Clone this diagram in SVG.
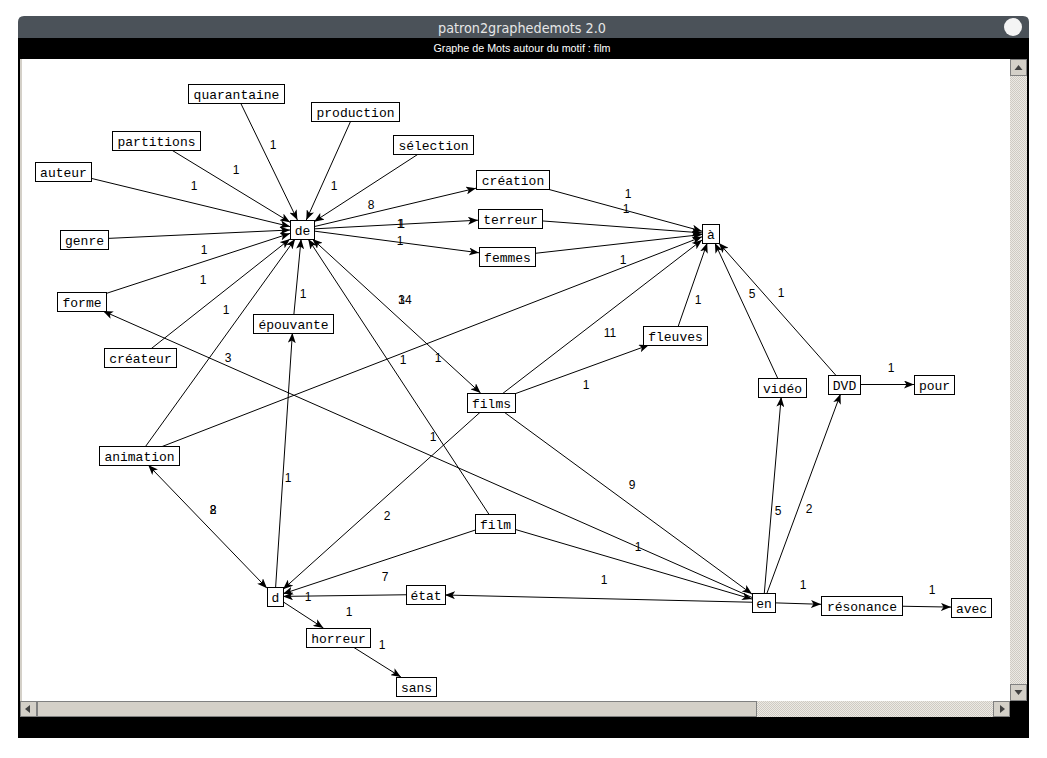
<svg xmlns="http://www.w3.org/2000/svg" width="1047" height="758" viewBox="0 0 1047 758">
<style>
.nb{fill:#fff;stroke:#000;stroke-width:1}
.nt{font-family:"Liberation Mono",monospace;font-size:13px;fill:#000;text-anchor:middle}
.lb{font-family:"Liberation Sans",Arial,sans-serif;font-size:12px;fill:#000;text-anchor:middle}
.e{stroke:#000;stroke-width:1;fill:none;marker-end:url(#ah)}
.b{marker-start:url(#ah)}
.btn{fill:#d4d0c8;stroke:#808080;stroke-width:1}
.tri{fill:#404040}
</style>
<defs>
<marker id="ah" viewBox="0 0 10 8" refX="10" refY="4" markerWidth="10" markerHeight="8" markerUnits="userSpaceOnUse" orient="auto-start-reverse">
<path d="M0,0 L10,4 L0,8 L2.5,4 z" fill="#000"/>
</marker>
<pattern id="hatch" width="2" height="2" patternUnits="userSpaceOnUse">
<rect width="2" height="2" fill="#ece9e4"/>
<rect width="1" height="1" fill="#cfcbc3"/>
<rect x="1" y="1" width="1" height="1" fill="#cfcbc3"/>
</pattern>
</defs>
<rect width="1047" height="758" fill="#fff"/>
<!-- window frame -->
<rect x="18" y="36" width="1011" height="702" fill="#000"/>
<path d="M18,38 L18,22 Q18,16 24,16 L1023,16 Q1029,16 1029,22 L1029,38 Z" fill="#4b5259"/>
<text x="522" y="33" font-family="DejaVu Sans Condensed,DejaVu Sans,sans-serif" font-size="14" fill="#e6e6e6" text-anchor="middle" textLength="168" lengthAdjust="spacingAndGlyphs">patron2graphedemots 2.0</text>
<circle cx="1013" cy="27" r="9" fill="#f4f4f4"/>
<text x="522" y="52" font-family="Liberation Sans,Arial,sans-serif" font-size="10" fill="#fff" text-anchor="middle" textLength="177" lengthAdjust="spacingAndGlyphs">Graphe de Mots autour du motif : film</text>
<!-- canvas -->
<rect x="20" y="59" width="990" height="642" fill="#fff"/>
<rect x="20" y="59" width="2" height="642" fill="#d4d0c8"/>
<!-- vertical scrollbar -->
<rect x="1010" y="59" width="17" height="642" fill="url(#hatch)"/>
<rect x="1010.5" y="59.5" width="16" height="16" class="btn"/>
<path d="M1014.5,70 L1022.5,70 L1018.5,65 Z" class="tri"/>
<rect x="1010.5" y="684.5" width="16" height="16" class="btn"/>
<path d="M1014.5,690 L1022.5,690 L1018.5,695 Z" class="tri"/>
<!-- horizontal scrollbar -->
<rect x="20" y="701" width="990" height="16" fill="url(#hatch)"/>
<rect x="20.5" y="701.5" width="16" height="15" class="btn"/>
<path d="M25,709 L30,705 L30,713 Z" class="tri"/>
<rect x="37.5" y="701.5" width="719" height="15" class="btn"/>
<rect x="993.5" y="701.5" width="16" height="15" class="btn"/>
<path d="M1005,709 L1000,705 L1000,713 Z" class="tri"/>
<g id="connectors">
<line class="e" x1="236" y1="93.5" x2="297.4" y2="220"/>
<line class="e" x1="355" y1="111.5" x2="306.3" y2="220"/>
<line class="e" x1="156" y1="140.5" x2="290" y2="222.2"/>
<line class="e" x1="433" y1="144.5" x2="314" y2="221.7"/>
<line class="e" x1="63" y1="171.5" x2="290" y2="226.6"/>
<line class="e" x1="84" y1="239.5" x2="290" y2="230"/>
<line class="e" x1="81.5" y1="301.5" x2="290" y2="233.4"/>
<line class="e" x1="140" y1="357.5" x2="290" y2="239"/>
<line class="e" x1="139" y1="455.5" x2="295.1" y2="239"/>
<line class="e" x1="293" y1="323.5" x2="301.1" y2="239"/>
<line class="e" x1="495" y1="523.5" x2="308.2" y2="239"/>
<line class="e b" x1="312.4" y1="239" x2="480.6" y2="393"/>
<line class="e" x1="302" y1="229.5" x2="476" y2="188.2"/>
<line class="e" x1="302" y1="229.5" x2="478" y2="220.2"/>
<line class="e" x1="302" y1="229.5" x2="479" y2="252.8"/>
<line class="e" x1="512.5" y1="179.5" x2="702" y2="231.2"/>
<line class="e" x1="510" y1="218.5" x2="702" y2="232.9"/>
<line class="e" x1="507" y1="256.5" x2="702" y2="234.5"/>
<line class="e" x1="139" y1="455.5" x2="702" y2="236.8"/>
<line class="e" x1="491" y1="402.5" x2="702" y2="240"/>
<line class="e" x1="675" y1="335.5" x2="707.2" y2="243"/>
<line class="e" x1="782" y1="387.5" x2="714.9" y2="243"/>
<line class="e" x1="844" y1="384.5" x2="718.9" y2="243"/>
<line class="e" x1="491" y1="402.5" x2="648.9" y2="345"/>
<line class="e" x1="491" y1="402.5" x2="752" y2="594.1"/>
<line class="e" x1="495" y1="523.5" x2="752" y2="599.1"/>
<line class="e" x1="763.5" y1="602.5" x2="103" y2="311"/>
<line class="e" x1="763.5" y1="602.5" x2="445" y2="595"/>
<line class="e" x1="763.5" y1="602.5" x2="781.2" y2="397"/>
<line class="e" x1="763.5" y1="602.5" x2="840.5" y2="394"/>
<line class="e" x1="763.5" y1="602.5" x2="821" y2="604.3"/>
<line class="e" x1="861.5" y1="605.5" x2="951" y2="607.1"/>
<line class="e" x1="844" y1="384.5" x2="914" y2="384.5"/>
<line class="e" x1="491" y1="402.5" x2="283" y2="589.3"/>
<line class="e" x1="495" y1="523.5" x2="283" y2="593.8"/>
<line class="e" x1="425.5" y1="594.5" x2="283" y2="596.4"/>
<line class="e b" x1="148.2" y1="465" x2="267" y2="588.2"/>
<line class="e" x1="275" y1="596.5" x2="292.4" y2="333"/>
<line class="e" x1="275" y1="596.5" x2="323.4" y2="628"/>
<line class="e" x1="338" y1="637.5" x2="400.9" y2="677"/>
</g>
<g id="edge-labels">
<text class="lb" x="273" y="149">1</text>
<text class="lb" x="236" y="174">1</text>
<text class="lb" x="194" y="190">1</text>
<text class="lb" x="334" y="190">1</text>
<text class="lb" x="371" y="209">8</text>
<text class="lb" x="400" y="228">1</text>
<text class="lb" x="401.5" y="228">1</text>
<text class="lb" x="400" y="245">1</text>
<text class="lb" x="628" y="198">1</text>
<text class="lb" x="626" y="213">1</text>
<text class="lb" x="204" y="254">1</text>
<text class="lb" x="203" y="284">1</text>
<text class="lb" x="226" y="314">1</text>
<text class="lb" x="303" y="298">1</text>
<text class="lb" x="405" y="304">14</text>
<text class="lb" x="401.5" y="304">3</text>
<text class="lb" x="438" y="362">1</text>
<text class="lb" x="403" y="364">1</text>
<text class="lb" x="623" y="264">1</text>
<text class="lb" x="610" y="337">11</text>
<text class="lb" x="698" y="304">1</text>
<text class="lb" x="752" y="298">5</text>
<text class="lb" x="781" y="297">1</text>
<text class="lb" x="586" y="389">1</text>
<text class="lb" x="891" y="372">1</text>
<text class="lb" x="228" y="362">3</text>
<text class="lb" x="288" y="482">1</text>
<text class="lb" x="433" y="441">1</text>
<text class="lb" x="632" y="489">9</text>
<text class="lb" x="213" y="514">2</text>
<text class="lb" x="213" y="514">8</text>
<text class="lb" x="387" y="520">2</text>
<text class="lb" x="778" y="515">5</text>
<text class="lb" x="809" y="513">2</text>
<text class="lb" x="638" y="551">1</text>
<text class="lb" x="385" y="581">7</text>
<text class="lb" x="604" y="584">1</text>
<text class="lb" x="308" y="601">1</text>
<text class="lb" x="803" y="589">1</text>
<text class="lb" x="932" y="594">1</text>
<text class="lb" x="349" y="616">1</text>
<text class="lb" x="382" y="649">1</text>
</g>
<g id="n-quarantaine"><rect class="nb" x="188.5" y="84.5" width="96" height="19"/><text class="nt" x="236.5" y="98.5">quarantaine</text></g>
<g id="n-production"><rect class="nb" x="311.5" y="102.5" width="88" height="19"/><text class="nt" x="355.5" y="116.5">production</text></g>
<g id="n-partitions"><rect class="nb" x="112.5" y="131.5" width="88" height="19"/><text class="nt" x="156.5" y="145.5">partitions</text></g>
<g id="n-selection"><rect class="nb" x="393.5" y="135.5" width="80" height="19"/><text class="nt" x="433.5" y="149.5">sélection</text></g>
<g id="n-auteur"><rect class="nb" x="35.5" y="162.5" width="56" height="19"/><text class="nt" x="63.5" y="176.5">auteur</text></g>
<g id="n-creation"><rect class="nb" x="476.5" y="170.5" width="73" height="19"/><text class="nt" x="513" y="184.5">création</text></g>
<g id="n-de"><rect class="nb" x="290.5" y="220.5" width="24" height="19"/><text class="nt" x="302.5" y="234.5">de</text></g>
<g id="n-terreur"><rect class="nb" x="478.5" y="209.5" width="64" height="19"/><text class="nt" x="510.5" y="223.5">terreur</text></g>
<g id="n-a"><rect class="nb" x="702.5" y="224.5" width="17" height="19"/><text class="nt" x="711" y="238.5">à</text></g>
<g id="n-genre"><rect class="nb" x="60.5" y="230.5" width="48" height="19"/><text class="nt" x="84.5" y="244.5">genre</text></g>
<g id="n-femmes"><rect class="nb" x="479.5" y="247.5" width="56" height="19"/><text class="nt" x="507.5" y="261.5">femmes</text></g>
<g id="n-forme"><rect class="nb" x="57.5" y="292.5" width="49" height="19"/><text class="nt" x="82" y="306.5">forme</text></g>
<g id="n-epouvante"><rect class="nb" x="253.5" y="314.5" width="80" height="19"/><text class="nt" x="293.5" y="328.5">épouvante</text></g>
<g id="n-fleuves"><rect class="nb" x="643.5" y="326.5" width="64" height="19"/><text class="nt" x="675.5" y="340.5">fleuves</text></g>
<g id="n-createur"><rect class="nb" x="104.5" y="348.5" width="72" height="19"/><text class="nt" x="140.5" y="362.5">créateur</text></g>
<g id="n-video"><rect class="nb" x="758.5" y="378.5" width="48" height="19"/><text class="nt" x="782.5" y="392.5">vidéo</text></g>
<g id="n-DVD"><rect class="nb" x="828.5" y="375.5" width="32" height="19"/><text class="nt" x="844.5" y="389.5">DVD</text></g>
<g id="n-pour"><rect class="nb" x="914.5" y="375.5" width="40" height="19"/><text class="nt" x="934.5" y="389.5">pour</text></g>
<g id="n-films"><rect class="nb" x="467.5" y="393.5" width="48" height="19"/><text class="nt" x="491.5" y="407.5">films</text></g>
<g id="n-animation"><rect class="nb" x="99.5" y="446.5" width="80" height="19"/><text class="nt" x="139.5" y="460.5">animation</text></g>
<g id="n-film"><rect class="nb" x="475.5" y="514.5" width="40" height="19"/><text class="nt" x="495.5" y="528.5">film</text></g>
<g id="n-d"><rect class="nb" x="267.5" y="587.5" width="16" height="19"/><text class="nt" x="275.5" y="601.5">d</text></g>
<g id="n-etat"><rect class="nb" x="406.5" y="585.5" width="39" height="19"/><text class="nt" x="426" y="599.5">état</text></g>
<g id="n-en"><rect class="nb" x="752.5" y="593.5" width="23" height="19"/><text class="nt" x="764" y="607.5">en</text></g>
<g id="n-resonance"><rect class="nb" x="821.5" y="596.5" width="81" height="19"/><text class="nt" x="862" y="610.5">résonance</text></g>
<g id="n-avec"><rect class="nb" x="951.5" y="598.5" width="40" height="19"/><text class="nt" x="971.5" y="612.5">avec</text></g>
<g id="n-horreur"><rect class="nb" x="306.5" y="628.5" width="64" height="19"/><text class="nt" x="338.5" y="642.5">horreur</text></g>
<g id="n-sans"><rect class="nb" x="396.5" y="677.5" width="40" height="19"/><text class="nt" x="416.5" y="691.5">sans</text></g>
</svg>
